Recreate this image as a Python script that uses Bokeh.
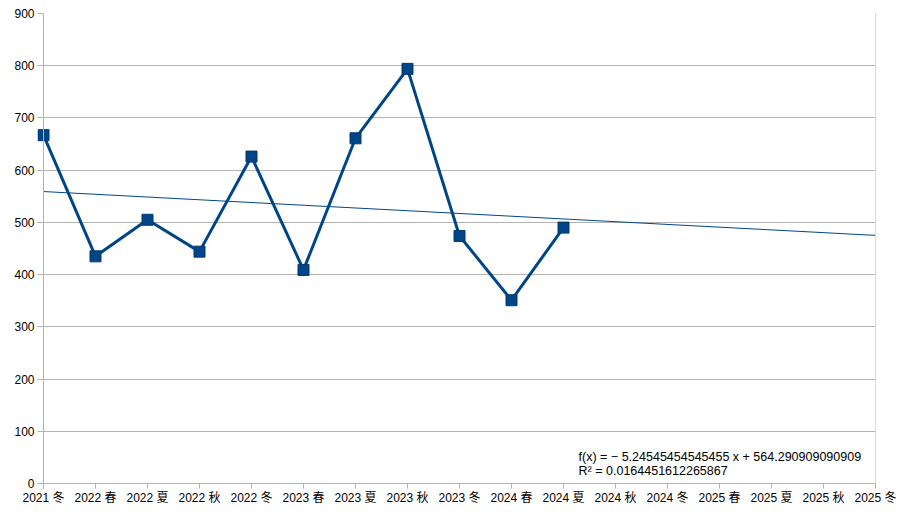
from bokeh.plotting import figure
from bokeh.models import Range1d, FixedTicker, Label, Span
from bokeh.embed import file_html
from bokeh.resources import INLINE

categories = ["2021 冬", "2022 春", "2022 夏", "2022 秋", "2022 冬",
              "2023 春", "2023 夏", "2023 秋", "2023 冬",
              "2024 春", "2024 夏", "2024 秋", "2024 冬",
              "2025 春", "2025 夏", "2025 秋", "2025 冬"]
values = [667, 435, 505, 444, 626, 409, 661, 794, 474, 351, 490]
trend_slope = -5.24545454545455
trend_intercept = 564.290909090909
y_ticks = [0, 100, 200, 300, 400, 500, 600, 700, 800, 900]

FONT = "'Liberation Sans', 'Noto Sans CJK SC', sans-serif"
COLOR = "#004586"
GRID = "#b3b3b3"

last = len(categories) - 1
# small left pad so the first marker is not clipped by the frame
p = figure(width=900, height=516, output_backend="svg", toolbar_location=None,
           x_range=Range1d(-6 / 52, last), y_range=Range1d(0, 900),
           min_border_left=37, min_border_right=25, min_border_top=13,
           min_border_bottom=33)
p.background_fill_color = "white"
p.border_fill_color = "white"
p.outline_line_color = None

xs = list(range(len(values)))

p.xaxis.ticker = FixedTicker(ticks=list(range(len(categories))))
p.xaxis.major_label_overrides = {i: c for i, c in enumerate(categories)}
p.yaxis.ticker = FixedTicker(ticks=y_ticks)

for ax in (p.xaxis, p.yaxis):
    ax.axis_line_color = GRID
    ax.major_tick_line_color = GRID
    ax.minor_tick_line_color = None
    ax.major_label_text_font = FONT
    ax.major_label_text_font_size = "12px"
    ax.major_label_text_color = "#000000"
p.xaxis.major_tick_in = 0
p.xaxis.major_tick_out = 5
p.xaxis.major_label_standoff = 2
p.yaxis.axis_line_color = None
p.yaxis.major_tick_in = 6
p.yaxis.major_tick_out = 0
p.yaxis.major_label_standoff = 3

p.xgrid.grid_line_color = None
p.ygrid.grid_line_color = GRID
p.ygrid.ticker = FixedTicker(ticks=y_ticks)

# value axis line at the first category, and right border
p.add_layout(Span(location=0, dimension="height", line_color=GRID, line_width=1))
p.add_layout(Span(location=last, dimension="height", line_color=GRID, line_width=1))

# trend line over whole category range (1-based x in formula)
tx = [0, last]
ty = [trend_slope * (x + 1) + trend_intercept for x in tx]
p.line(tx, ty, line_color=COLOR, line_width=1)

p.line(xs, values, line_color=COLOR, line_width=3)
p.scatter(xs, values, marker="square", size=11, fill_color=COLOR,
          line_color="#003a70", line_width=1)

eq1 = "f(x) = − 5.24545454545455 x + 564.290909090909"
eq2 = "R² = 0.0164451612265867"
for txt, yy in ((eq1, 49.8), (eq2, 23.0)):
    p.add_layout(Label(x=10.29, y=yy, text=txt, text_font=FONT,
                       text_font_size="12.5px", text_color="#000000",
                       text_baseline="alphabetic"))

open("out.html", "w").write(file_html(p, INLINE))
